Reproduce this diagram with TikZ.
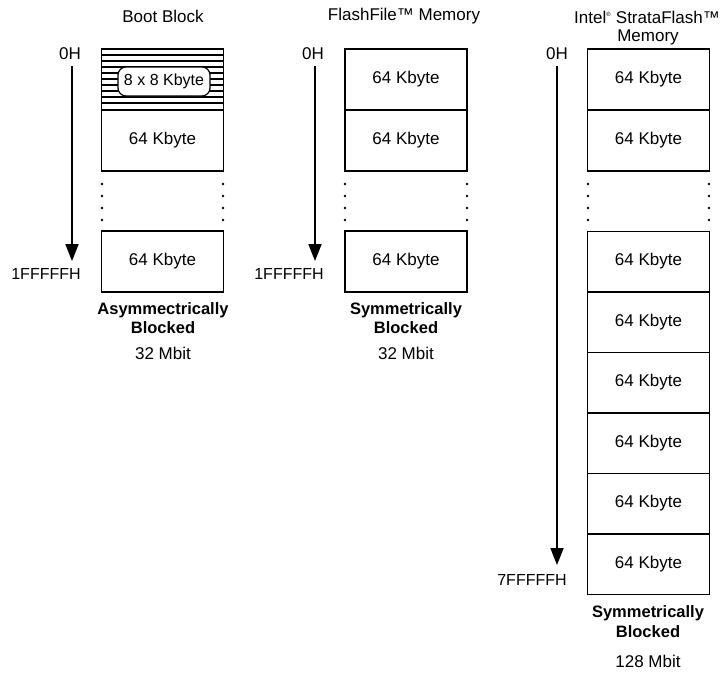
\documentclass[tikz,border=0pt]{standalone}
\usepackage{fontspec}
\setmainfont{Liberation Sans}
\usetikzlibrary{arrows.meta}
\usetikzlibrary{positioning}

\begin{document}
\begin{tikzpicture}[x=1pt,y=-1pt]
    \tikzstyle{every node}=[font=\fontsize{17}{20}\selectfont]
    \tikzstyle{blk} = [draw,line width=1.5pt,minimum width=122pt,minimum height=61pt,inner sep=0pt]
    \tikzstyle{ublk} = [blk,minimum height=60.5pt]
    \tikzstyle{sub} = [draw,line width=1.2pt,fill=white,rounded corners=8pt,minimum width=92pt,minimum height=29pt,inner sep=0pt,font=\fontsize{16}{19}\selectfont]
    \tikzstyle{hatch} = [line width=1.3pt]
    \tikzstyle{addr} = [draw,line width=1.8pt,-{Triangle[length=17pt,width=13pt]}]
    \tikzstyle{adr} = [font=\fontsize{16}{19}\selectfont]
    \tikzstyle{dot} = [fill,circle,inner sep=0pt,minimum size=2.6pt]
    \tikzstyle{kind} = [font=\fontsize{16.5}{20}\selectfont\bfseries]
    \useasboundingbox (0,0) rectangle (722,673);
    % boot block
    \node (bt) at (163,16) {Boot Block};
    \node (b0) at (70,54) {0H};
    \foreach \y in {55,61,...,103}
      \draw [hatch] (102,\y) -- (223,\y);
    \node [blk] (b1) at (162.5,79.5) {};
    \node [sub] (b1s) at (164,81.5) {8 x 8 Kbyte};
    \node [blk] (b2) at (162.5,140.5) {64 Kbyte};
    \node [blk] (b3) at (162.5,261.5) {64 Kbyte};
    \foreach \y in {184,196,208,220} {
      \node [dot] at (102,\y) {};
      \node [dot] at (223,\y) {};
    }
    \coordinate (bs) at (72,66);
    \coordinate (be) at (72,261);
    \path [addr] (bs) -- (be);
    \node [adr] (bn) at (46,274) {1FFFFFH};
    \node [kind] (bk1) at (163,310) {Asymmectrically};
    \node [kind] (bk2) at (163,328) {Blocked};
    \node (bm) at (163,353) {32 Mbit};
    % flashfile
    \node (ft) at (404,16) {FlashFile™ Memory};
    \node (f0) at (313,54) {0H};
    \node [blk] (f1) at (406,79.5) {64 Kbyte};
    \node [blk] (f2) at (406,140.5) {64 Kbyte};
    \node [blk] (f3) at (406,261.5) {64 Kbyte};
    \foreach \y in {184,196,208,220} {
      \node [dot] at (345,\y) {};
      \node [dot] at (467,\y) {};
    }
    \coordinate (fs) at (315,66);
    \coordinate (fe) at (315,261);
    \path [addr] (fs) -- (fe);
    \node [adr] (fn) at (289,274) {1FFFFFH};
    \node [kind] (fk1) at (406,310) {Symmetrically};
    \node [kind] (fk2) at (406,328) {Blocked};
    \node (fm) at (406,353) {32 Mbit};
    % strataflash
    \node (st) at (647,17) {Intel\textsuperscript{\fontsize{6}{6}\selectfont\textregistered} StrataFlash™};
    \node (st2) at (648,37) {Memory};
    \node (s0) at (557,54) {0H};
    \node [blk] (s1) at (648.5,79.5) {64 Kbyte};
    \node [blk] (s2) at (648.5,140.5) {64 Kbyte};
    \foreach \i in {0,...,5}
      \node [ublk] (s\i x) at (648.5,261.5+60.5*\i) {64 Kbyte};
    \foreach \y in {184,196,208,220} {
      \node [dot] at (588,\y) {};
      \node [dot] at (709,\y) {};
    }
    \coordinate (ss) at (557,66);
    \coordinate (se) at (557,565);
    \path [addr] (ss) -- (se);
    \node [adr] (sn) at (532,580) {7FFFFFH};
    \node [kind] (sk1) at (648,613) {Symmetrically};
    \node [kind] (sk2) at (648,632) {Blocked};
    \node (sm) at (648,661) {128 Mbit};
\end{tikzpicture}
\end{document}
